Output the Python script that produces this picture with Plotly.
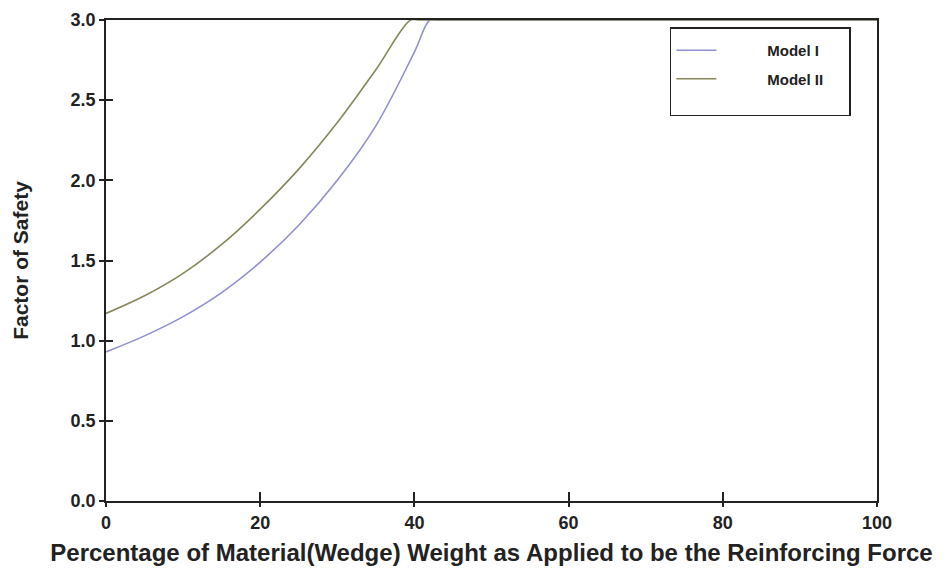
import plotly.graph_objects as go

# Percentage of wedge weight applied as reinforcing force vs. factor of safety
pct_model1 = [0, 5, 10, 15, 20, 25, 30, 35, 40, 42, 43, 100]
fos_model1 = [0.93, 1.03, 1.15, 1.30, 1.49, 1.72, 2.00, 2.34, 2.80, 3.0, 3.0, 3.0]

pct_model2 = [0, 5, 10, 15, 20, 25, 30, 35, 39.5, 40.5, 100]
fos_model2 = [1.17, 1.28, 1.42, 1.60, 1.82, 2.07, 2.36, 2.69, 3.0, 3.0, 3.0]

x_ticks = [0, 20, 40, 60, 80, 100]
y_ticks = [0.0, 0.5, 1.0, 1.5, 2.0, 2.5, 3.0]

FONT = "Liberation Sans, Arial, sans-serif"
INK = "#222222"
NB = "\u00a0"

fig = go.Figure()
fig.add_trace(go.Scatter(
    x=pct_model1, y=fos_model1, mode="lines", name=NB * 11 + "<b>Model I</b>" + NB * 6,
    line=dict(color="#8f8fd2", width=1.6, shape="spline", smoothing=1.0),
    legendgroup="m1", hoverinfo="skip",
))
fig.add_trace(go.Scatter(
    x=pct_model2, y=fos_model2, mode="lines", name=NB * 11 + "<b>Model II</b><br>" + NB,
    line=dict(color="#86865a", width=1.6, shape="spline", smoothing=1.0),
    legendgroup="m2", hoverinfo="skip",
))
# invisible carrier so the companion tick axes get drawn
fig.add_trace(go.Scatter(x=[None], y=[None], xaxis="x2", yaxis="y2",
                         showlegend=False, hoverinfo="skip"))

axis_common = dict(
    showgrid=False, zeroline=False, showline=True, linecolor=INK,
    linewidth=1.8, mirror=True, tickcolor=INK, tickwidth=1.5,
)
tick_font = dict(size=18, family=FONT, weight="bold", color=INK)

fig.update_layout(
    width=949, height=577,
    margin=dict(l=106, r=72, t=20, b=76),
    paper_bgcolor="white", plot_bgcolor="white",
    font=dict(family=FONT, color=INK),
    xaxis=dict(
        range=[0, 100], tickvals=x_ticks, ticks="outside", ticklen=4,
        tickfont=tick_font, automargin=False,
        title=dict(text="<b>Percentage of Material(Wedge) Weight as Applied to be the Reinforcing Force</b>",
                   font=dict(size=24, family=FONT, color=INK), standoff=13),
        **axis_common,
    ),
    yaxis=dict(
        range=[0, 3.0], tickvals=y_ticks, tickformat=".1f", ticks="outside", ticklen=5,
        tickfont=tick_font, automargin=False,
        title=dict(text="<b>Factor of Safety</b>", font=dict(size=21, family=FONT, color=INK),
                   standoff=36),
        **axis_common,
    ),
    # companion axes supply the inner half of the crossing tick marks
    xaxis2=dict(range=[0, 100], tickvals=x_ticks, ticks="inside", ticklen=9,
                showticklabels=False, overlaying="x", anchor="y", side="bottom",
                showgrid=False, zeroline=False, showline=False,
                tickcolor=INK, tickwidth=1.5),
    yaxis2=dict(range=[0, 3.0], tickvals=y_ticks, ticks="inside", ticklen=7,
                showticklabels=False, overlaying="y", anchor="x", side="left",
                showgrid=False, zeroline=False, showline=False,
                tickcolor=INK, tickwidth=1.5),
    legend=dict(
        x=0.966, y=0.985, xanchor="right", yanchor="top",
        bgcolor="white", bordercolor=INK, borderwidth=1.6,
        font=dict(size=15, family=FONT, color=INK),
        itemwidth=40, tracegroupgap=6, valign="top",
        title=dict(text=NB, font=dict(size=4)),
    ),
    showlegend=True,
)

fig.write_html("out.html")
